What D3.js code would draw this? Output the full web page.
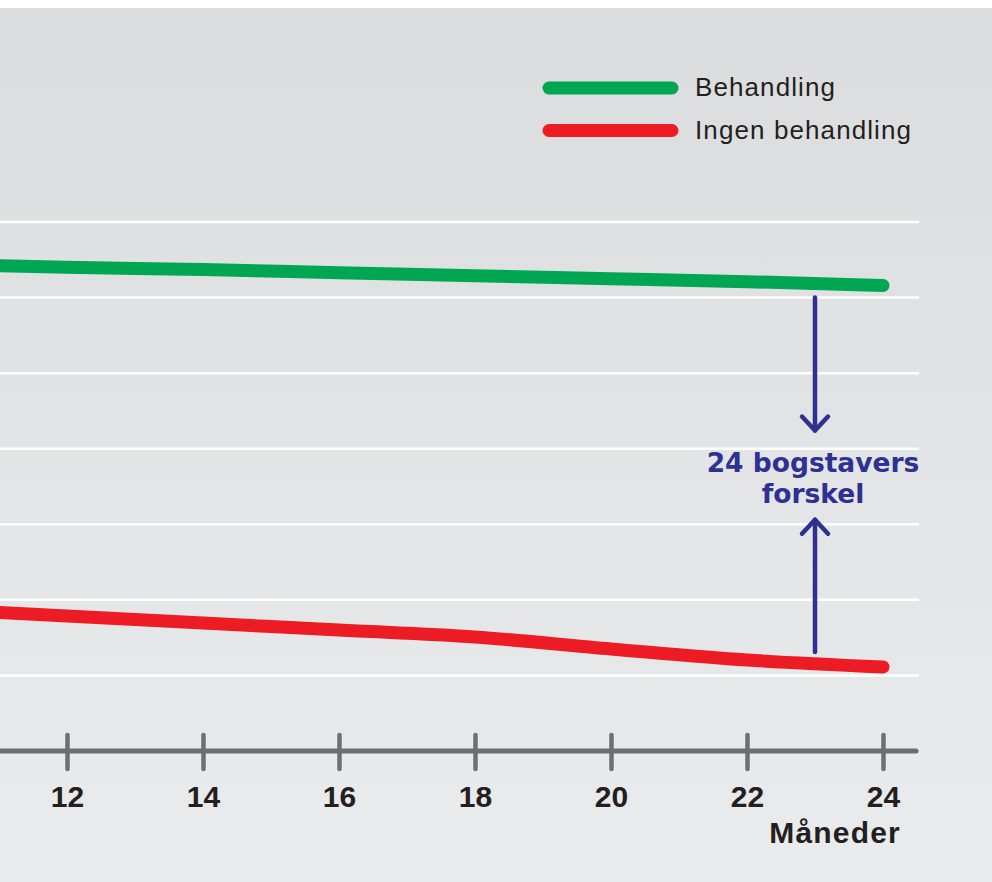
<!DOCTYPE html>
<html>
<head>
<meta charset="utf-8">
<script src="https://cdn.jsdelivr.net/npm/d3@7"></script>
<style>
  html, body { margin: 0; padding: 0; background: #ffffff; }
  svg { display: block; }
</style>
</head>
<body>
<svg id="chart" width="992" height="882"></svg>
<script>
// ---- data ----
const months = [10, 12, 14, 16, 18, 20, 22, 24];
const behandling = [32.2, 32.0, 31.85, 31.65, 31.45, 31.25, 31.05, 30.8];
const ingenBehandling = [9.4, 8.93, 8.47, 8.0, 7.54, 6.75, 6.02, 5.56];
const xTicks = [12, 14, 16, 18, 20, 22, 24];
const gridValues = [5, 10, 15, 20, 25, 30, 35];
const seriesNames = ["Behandling", "Ingen behandling"];
const seriesColors = ["#00a651", "#ed1c24"];
const xAxisTitle = "Måneder";
const annotationLines = ["24 bogstavers", "forskel"];
const arrowMonth = 23;
const arrowTop = [30.0, 21.2];     // from, to (pointing down)
const arrowBottom = [6.55, 15.3];  // from, to (pointing up)

// ---- layout ----
const W = 992, H = 882;
const svg = d3.select("#chart");

const x = d3.scaleLinear().domain([12, 24]).range([67, 883]);
const y = d3.scaleLinear().domain([0, 35]).range([751, 222]);

// background
const defs = svg.append("defs");
const grad = defs.append("linearGradient").attr("id", "bg").attr("x1", 0).attr("y1", 0).attr("x2", 0).attr("y2", 1);
grad.append("stop").attr("offset", "0%").attr("stop-color", "#dbdcde");
grad.append("stop").attr("offset", "100%").attr("stop-color", "#eaebed");
svg.append("rect").attr("x", 0).attr("y", 0).attr("width", W).attr("height", H).attr("fill", "#ffffff");
svg.append("rect").attr("x", 0).attr("y", 8).attr("width", W).attr("height", H - 8).attr("fill", "url(#bg)");

defs.append("clipPath").attr("id", "clip").append("rect")
  .attr("x", 0).attr("y", 8).attr("width", W).attr("height", H - 8);

// gridlines
svg.append("g").selectAll("line").data(gridValues).join("line")
  .attr("x1", 0).attr("x2", 919)
  .attr("y1", d => y(d)).attr("y2", d => y(d))
  .attr("stroke", "#ffffff").attr("stroke-width", 2.5);

// x axis
const axisG = svg.append("g").attr("transform", `translate(0,${y(0)})`);
const xAxis = d3.axisBottom(x).tickValues(xTicks).tickSize(0).tickPadding(0).tickFormat(d3.format("d"));
axisG.call(xAxis);
axisG.select(".domain").remove();
axisG.insert("line", ":first-child")
  .attr("x1", -10).attr("x2", 916).attr("y1", 0).attr("y2", 0)
  .attr("stroke", "#6d6e71").attr("stroke-width", 5).attr("stroke-linecap", "round");
axisG.selectAll(".tick line").remove();
axisG.selectAll(".tick").append("line")
  .attr("x1", 0).attr("x2", 0).attr("y1", -16).attr("y2", 18)
  .attr("stroke", "#6d6e71").attr("stroke-width", 4.5).attr("stroke-linecap", "round");
axisG.selectAll(".tick text")
  .attr("y", 56).attr("dy", 0)
  .attr("fill", "#231f20")
  .style("font-family", "'Liberation Sans', Arial, sans-serif")
  .style("font-weight", "bold")
  .style("font-size", "30px");

svg.append("text")
  .attr("x", 901).attr("y", 843)
  .attr("text-anchor", "end")
  .attr("fill", "#231f20")
  .style("font-family", "'Liberation Sans', Arial, sans-serif")
  .style("font-weight", "bold")
  .style("font-size", "30px")
  .style("letter-spacing", "1.2px")
  .text(xAxisTitle);

// lines
const line = d3.line().x(d => x(d[0])).y(d => y(d[1])).curve(d3.curveMonotoneX);
const series = [behandling, ingenBehandling];
const linesG = svg.append("g").attr("clip-path", "url(#clip)");
series.forEach((vals, i) => {
  linesG.append("path")
    .datum(months.map((m, j) => [m, vals[j]]))
    .attr("d", line)
    .attr("fill", "none")
    .attr("stroke", seriesColors[i])
    .attr("stroke-width", 13)
    .attr("stroke-linecap", "round")
    .attr("stroke-linejoin", "round");
});

// arrows
const arrowColor = "#2e3192";
const ax = x(arrowMonth);
function arrow(from, to) {
  const y1 = y(from), y2 = y(to);
  const dir = y2 > y1 ? 1 : -1;
  const g = svg.append("g")
    .attr("stroke", arrowColor).attr("stroke-width", 4.5)
    .attr("stroke-linecap", "round").attr("stroke-linejoin", "round").attr("fill", "none");
  g.append("line").attr("x1", ax).attr("x2", ax).attr("y1", y1).attr("y2", y2);
  g.append("polyline").attr("points", `${ax - 13},${y2 - dir * 14} ${ax},${y2} ${ax + 13},${y2 - dir * 14}`);
}
arrow(arrowTop[0], arrowTop[1]);
arrow(arrowBottom[0], arrowBottom[1]);

// annotation text
const ann = svg.append("text")
  .attr("text-anchor", "middle")
  .attr("fill", arrowColor)
  .style("font-family", "'DejaVu Sans', 'Liberation Sans', Arial, sans-serif")
  .style("font-weight", "bold")
  .style("font-size", "26.5px");
annotationLines.forEach((t, i) => {
  ann.append("tspan").attr("x", ax - 2).attr("y", 472 + i * 31).text(t);
});

// legend
const legend = svg.append("g");
seriesNames.forEach((name, i) => {
  const ly = 88 + i * 42.5;
  legend.append("line")
    .attr("x1", 549).attr("x2", 672).attr("y1", ly).attr("y2", ly)
    .attr("stroke", seriesColors[i]).attr("stroke-width", 13).attr("stroke-linecap", "round");
  legend.append("text")
    .attr("x", 695).attr("y", ly + 8)
    .attr("fill", "#231f20")
    .style("font-family", "'Liberation Sans', Arial, sans-serif")
    .style("font-size", "26px")
    .style("letter-spacing", "1.1px")
    .text(name);
});
</script>
</body>
</html>
